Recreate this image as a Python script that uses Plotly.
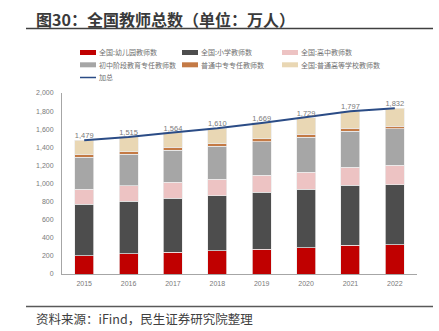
import plotly.graph_objects as go

# Teacher headcount by school type, 10k persons
years = ["2015", "2016", "2017", "2018", "2019", "2020", "2021", "2022"]
kindergarten = [200, 223, 243, 258, 276, 291, 319, 324]
primary = [572, 579, 594, 609, 627, 643, 660, 663]
senior_high = [165, 175, 175, 181, 186, 193, 203, 213]
junior_high = [354, 349, 358, 364, 375, 386, 397, 403]
vocational = [25, 26, 28, 28, 28, 30, 30, 30]
higher_ed = [163, 163, 166, 170, 177, 186, 188, 199]
totals = [1479, 1515, 1564, 1610, 1669, 1729, 1797, 1832]

series_names = [
    "全国:幼儿园教师数", "全国:小学教师数", "全国:高中教师数",
    "初中阶段教育专任教师数", "普通中专专任教师数", "全国:普通高等学校教师数",
]
series_values = [kindergarten, primary, senior_high, junior_high, vocational, higher_ed]
series_colors = ["#C00000", "#4D4D4D", "#EDC3C3", "#A6A6A6", "#C47A45", "#E9D7B4"]
total_name = "加总"
total_color = "#2B4C86"

W, H = 439, 331
L, R, T, B = 62, 22, 93, 57
plot_w = W - L - R
plot_h = H - T - B

fig = go.Figure()
for name, vals, col in zip(series_names, series_values, series_colors):
    fig.add_trace(go.Bar(
        x=years, y=vals, name=name, marker_color=col,
        marker_line=dict(color="rgba(235,235,235,0.9)", width=0.8),
        showlegend=False, hoverinfo="skip",
    ))

fig.add_trace(go.Scatter(
    x=years, y=totals, name=total_name, mode="lines+text",
    line=dict(color=total_color, width=2),
    text=[f"{v:,}" for v in totals], textposition="top center",
    textfont=dict(size=7.5, color="#7a7a7a", family="Liberation Sans"),
    showlegend=False, hoverinfo="skip",
))


def px_x(px):
    return (px - L) / plot_w


def px_y(py):
    return (H - B - py) / plot_h


shapes = []
annotations = []

# hand-placed legend: three columns, bars as thin strips, total as a line
legend_cols = [80, 182, 282]
legend_rows = [52.5, 64.8, 77.5]
entries = list(zip(series_names, series_colors)) + [(total_name, total_color)]
for i, (name, col) in enumerate(entries):
    cx = legend_cols[i % 3]
    cy = legend_rows[i // 3]
    if name == total_name:
        shapes.append(dict(type="line", xref="paper", yref="paper",
                           x0=px_x(cx), x1=px_x(cx + 16), y0=px_y(cy), y1=px_y(cy),
                           line=dict(color=col, width=1.5)))
    else:
        shapes.append(dict(type="rect", xref="paper", yref="paper",
                           x0=px_x(cx), x1=px_x(cx + 16),
                           y0=px_y(cy + 2.5), y1=px_y(cy - 2.5),
                           fillcolor=col, line=dict(width=0)))
    annotations.append(dict(xref="paper", yref="paper", x=px_x(cx + 16.5), y=px_y(cy),
                            text=name, showarrow=False, xanchor="left", yanchor="middle",
                            font=dict(size=7, color="#707070", family="Noto Sans CJK SC")))

# header and footer rules
shapes.append(dict(type="line", xref="paper", yref="paper",
                   x0=px_x(26), x1=px_x(433), y0=px_y(28.5), y1=px_y(28.5),
                   line=dict(color="#404040", width=1.5)))
shapes.append(dict(type="line", xref="paper", yref="paper",
                   x0=px_x(26), x1=px_x(433), y0=px_y(306.5), y1=px_y(306.5),
                   line=dict(color="#595959", width=1.5)))

annotations.append(dict(xref="paper", yref="paper", x=px_x(34), y=px_y(18.5),
                        text="<b>图30：全国教师总数（单位：万人）</b>", showarrow=False,
                        xanchor="left", yanchor="middle",
                        font=dict(size=16, color="#3a3a3a", family="Noto Sans CJK SC")))
annotations.append(dict(xref="paper", yref="paper", x=px_x(34), y=px_y(318.5),
                        text="资料来源：iFind，民生证券研究院整理", showarrow=False,
                        xanchor="left", yanchor="middle",
                        font=dict(size=12.5, color="#404040", family="Noto Sans CJK SC")))

fig.update_layout(
    width=W, height=H, autosize=False,
    margin=dict(l=L, r=R, t=T, b=B, pad=0),
    barmode="stack", bargap=0.57,
    plot_bgcolor="white", paper_bgcolor="white",
    shapes=shapes, annotations=annotations,
    xaxis=dict(showgrid=False, showline=True, linecolor="#A6A6A6", linewidth=1,
               ticks="", ticklabelstandoff=3,
               tickfont=dict(size=7, color="#7a7a7a", family="Liberation Sans"),
               fixedrange=True),
    yaxis=dict(range=[0, 2000], dtick=200, tickformat=",", showgrid=False,
               showline=True, linecolor="#A6A6A6", linewidth=1, ticks="",
               zeroline=False, ticklabelstandoff=6,
               tickfont=dict(size=7, color="#7a7a7a", family="Liberation Sans"),
               fixedrange=True),
    font=dict(family="Noto Sans CJK SC"),
)

fig.write_html("out.html", config={"displayModeBar": False})
